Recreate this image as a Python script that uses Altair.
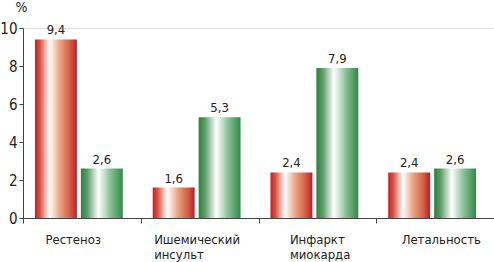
import altair as alt
import pandas as pd

categories = ["Рестеноз", "Ишемический инсульт", "Инфаркт миокарда", "Летальность"]
series_names = ["A", "B"]
values_red = [9.4, 1.6, 2.4, 2.4]
values_green = [2.6, 5.3, 7.9, 2.6]

rows = []
for c, v in zip(categories, values_red):
    rows.append({"cat": c, "series": "A", "value": v, "label": f"{v:.1f}".replace(".", ",")})
for c, v in zip(categories, values_green):
    rows.append({"cat": c, "series": "B", "value": v, "label": f"{v:.1f}".replace(".", ",")})
df = pd.DataFrame(rows)

FONT = "Liberation Sans Narrow, DejaVu Sans Condensed, sans-serif"

red_grad = alt.Gradient(
    gradient="linear", x1=0, x2=1, y1=0, y2=0,
    stops=[
        alt.GradientStop(offset=0.0, color="#c41e2c"),
        alt.GradientStop(offset=0.12, color="#d8553f"),
        alt.GradientStop(offset=0.35, color="#ffffff"),
        alt.GradientStop(offset=0.6, color="#e7a283"),
        alt.GradientStop(offset=0.85, color="#d35a3e"),
        alt.GradientStop(offset=1.0, color="#c0182c"),
    ],
)
green_grad = alt.Gradient(
    gradient="linear", x1=0, x2=1, y1=0, y2=0,
    stops=[
        alt.GradientStop(offset=0.0, color="#2f8040"),
        alt.GradientStop(offset=0.15, color="#5a9c66"),
        alt.GradientStop(offset=0.42, color="#ffffff"),
        alt.GradientStop(offset=0.7, color="#8cc096"),
        alt.GradientStop(offset=1.0, color="#2f8a48"),
    ],
)

x_enc = alt.X(
    "cat:N",
    sort=categories,
    scale=alt.Scale(paddingInner=0, paddingOuter=0),
    axis=alt.Axis(
        title=None,
        labelAngle=0,
        labelExpr="split(datum.label, ' ')",
        labelFont=FONT,
        labelFontSize=13,
        labelColor="#222222",
        labelPadding=10,
        labelAlign="left",
        labelOffset={"condition": {"test": "true", "expr": "datum.value == 'Рестеноз' ? -37 : datum.value == 'Ишемический инсульт' ? -46 : datum.value == 'Инфаркт миокарда' ? -28 : -34"}, "value": -36},
        tickBand="extent",
        tickSize=5,
        tickColor="#444444",
        domainColor="#444444",
        grid=False,
    ),
)
xoff = alt.XOffset(
    "series:N",
    scale=alt.Scale(domain=series_names, paddingInner=0.087, paddingOuter=0.326, align=0.4),
)
y_enc = alt.Y(
    "value:Q",
    scale=alt.Scale(domain=[0, 10], nice=False),
    axis=alt.Axis(
        title="%",
        titleAngle=0,
        titleX=-2,
        titleY=-14,
        titleFont=FONT,
        titleFontSize=14,
        titleFontWeight="normal",
        titleColor="#222222",
        titleAlign="center",
        values=[0, 2, 4, 6, 8, 10],
        labelFont=FONT,
        labelFontSize=15,
        labelColor="#222222",
        labelPadding=2,
        tickSize=4,
        tickColor="#444444",
        domainColor="#444444",
        grid=False,
    ),
)

base = alt.Chart(df).encode(x=x_enc, xOffset=xoff, y=y_enc)

bars_red = base.transform_filter("datum.series == 'A'").mark_bar(color=red_grad)
bars_green = base.transform_filter("datum.series == 'B'").mark_bar(color=green_grad)
texts = base.mark_text(dy=-9, font=FONT, fontSize=13, color="#222222").encode(text="label:N")

chart = (
    alt.layer(bars_red, bars_green, texts)
    .properties(width=471, height=190, autosize=alt.AutoSizeParams(type="none"),
                padding={"left": 23, "top": 28, "right": 0, "bottom": 44})
    .configure_view(stroke=None)
    .configure(background="white")
)

chart.save("out.html", embed_options={"renderer": "svg", "actions": False})
